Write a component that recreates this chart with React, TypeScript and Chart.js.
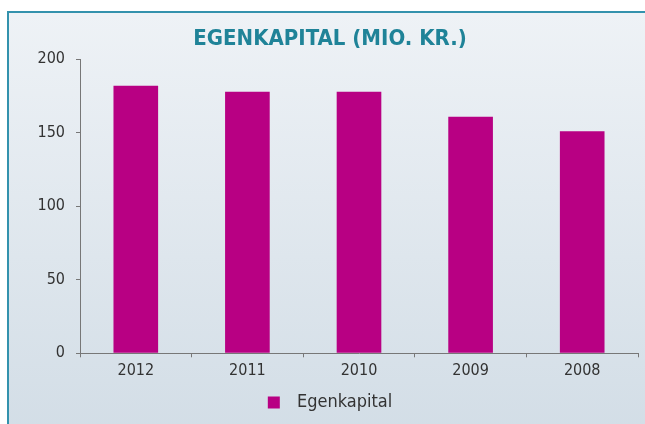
import React, { useEffect, useRef } from "react";
import { Chart, registerables } from "chart.js";

Chart.register(...registerables);

const categories = ["2012", "2011", "2010", "2009", "2008"];
const seriesName = "Egenkapital";
const values = [182, 178, 178, 161, 151];
const yTicks = [0, 50, 100, 150, 200];
const titleText = "EGENKAPITAL (MIO. KR.)";

const FONT = "'Liberation Sans Narrow', 'DejaVu Sans Condensed', Roboto, sans-serif";

export default function App() {
  const ref = useRef<HTMLCanvasElement | null>(null);

  useEffect(() => {
    document.body.style.margin = "0";
    if (!ref.current) return;
    const chart = new Chart(ref.current, {
      type: "bar",
      data: {
        labels: categories,
        datasets: [
          {
            label: seriesName,
            data: values,
            backgroundColor: "#b80083",
            borderWidth: 0,
            barPercentage: 0.4,
            categoryPercentage: 1,
          },
        ],
      },
      options: {
        animation: false,
        responsive: false,
        maintainAspectRatio: false,
        layout: { padding: { left: 22, right: 7, top: 0, bottom: 2.5 } },
        plugins: {
          title: {
            display: true,
            text: titleText,
            color: "#1f8398",
            font: { family: FONT, size: 22, weight: "bold", lineHeight: 1.2 },
            padding: { top: 26, bottom: 6.9 },
          },
          legend: {
            display: true,
            position: "bottom",
            labels: {
              boxWidth: 12,
              boxHeight: 12,
              color: "#333",
              font: { family: FONT, size: 18 },
              padding: 9,
              generateLabels: (c: any) =>
                c.data.datasets.map((d: any, i: number) => ({
                  text: "\u2002" + d.label,
                  fillStyle: d.backgroundColor,
                  strokeStyle: d.backgroundColor,
                  lineWidth: 0,
                  datasetIndex: i,
                  hidden: false,
                  fontColor: "#333",
                })),
            },
          },
          tooltip: { enabled: false },
        },
        scales: {
          x: {
            grid: {
              drawOnChartArea: false,
              drawTicks: true,
              tickLength: 4,
              color: "#777",
              offset: true,
            },
            border: { display: true, color: "#777", width: 1 },
            ticks: {
              color: "#333",
              font: { family: FONT, size: 16 },
              padding: 4,
            },
          },
          y: {
            min: 0,
            max: 200,
            afterFit: (s: any) => {
              s.width = 58;
            },
            afterBuildTicks: (s: any) => {
              s.ticks = yTicks.map((v) => ({ value: v }));
            },
            grid: {
              drawOnChartArea: false,
              drawTicks: true,
              tickLength: 4,
              color: "#777",
            },
            border: { display: true, color: "#777", width: 1 },
            ticks: {
              color: "#333",
              font: { family: FONT, size: 16 },
              padding: 11,
            },
          },
        },
      },
    });
    return () => chart.destroy();
  }, []);

  return (
    <div
      style={{
        position: "fixed",
        left: 0,
        top: 0,
        width: 645,
        height: 424,
        background: "#ffffff",
        overflow: "hidden",
      }}
    >
      <div
        style={{
          position: "absolute",
          left: 7,
          top: 11,
          width: 660,
          height: 430,
          borderLeft: "2px solid #3392ad",
          borderTop: "2px solid #3392ad",
          boxSizing: "border-box",
          background: "linear-gradient(#eef2f6, #d2dde6)",
        }}
      />
      <canvas
        ref={ref}
        width={645}
        height={424}
        style={{ position: "absolute", left: 0, top: 0, width: 645, height: 424 }}
      />
    </div>
  );
}
